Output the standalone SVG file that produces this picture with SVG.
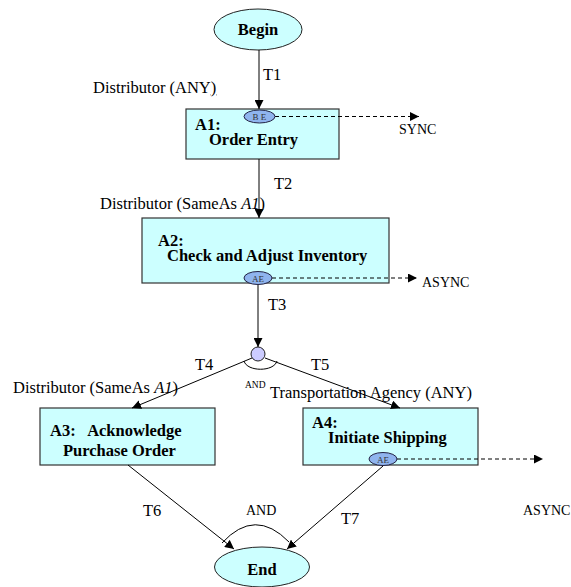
<svg xmlns="http://www.w3.org/2000/svg" width="571" height="587" viewBox="0 0 571 587">
  <style>
    .lbl { font-family: "Liberation Serif", "Times New Roman", serif; font-size: 16.5px; fill: #000; }
    .node-t { font-family: "Liberation Serif", "Times New Roman", serif; font-size: 16.5px; font-weight: bold; fill: #000; }
    .small { font-family: "Liberation Serif", "Times New Roman", serif; font-size: 14px; fill: #000; }
    .tiny { font-family: "Liberation Serif", "Times New Roman", serif; font-size: 9px; fill: #333; }
    .act { fill: #ccffff; stroke: #333; stroke-width: 1.2; }
    .term { fill: #ccffff; stroke: #222; stroke-width: 1; }
    .ev { fill: #8fb4ee; stroke: #224; stroke-width: 1; }
    .edge { fill: none; stroke: #000; stroke-width: 1; }
    .dash { fill: none; stroke: #000; stroke-width: 1; stroke-dasharray: 4 3; }
  </style>
  <defs>
    <marker id="arr" viewBox="0 0 10 10" refX="10" refY="5" markerWidth="9" markerHeight="9" markerUnits="userSpaceOnUse" orient="auto">
      <path d="M0,0 L10,5 L0,10 z" fill="#000"/>
    </marker>
  </defs>

  <g id="begin">
    <ellipse class="term" cx="258" cy="29.5" rx="44" ry="20.5"/>
    <text class="node-t" x="258" y="35" text-anchor="middle">Begin</text>
  </g>

  <g id="a1">
    <rect class="act" x="186" y="109" width="153" height="50"/>
    <text class="node-t" x="195" y="130">A1:</text>
    <text class="node-t" x="209" y="145">Order Entry</text>
  </g>

  <g id="a2">
    <rect class="act" x="142" y="218" width="247" height="65"/>
    <text class="node-t" x="158" y="246">A2:</text>
    <text class="node-t" x="167" y="261">Check and Adjust Inventory</text>
  </g>

  <g id="and-split">
    <circle cx="258" cy="354" r="7" fill="#ccccff" stroke="#222" stroke-width="1"/>
  </g>

  <g id="a3">
    <rect class="act" x="40" y="408" width="175" height="57"/>
    <text class="node-t" x="50" y="436" xml:space="preserve">A3:   Acknowledge</text>
    <text class="node-t" x="63" y="456">Purchase Order</text>
  </g>

  <g id="a4">
    <rect class="act" x="303" y="408" width="175" height="57"/>
    <text class="node-t" x="312" y="428">A4:</text>
    <text class="node-t" x="328" y="443">Initiate Shipping</text>
  </g>

  <g id="end">
    <ellipse class="term" cx="262" cy="567" rx="47.5" ry="20"/>
    <text class="node-t" x="262" y="575" text-anchor="middle">End</text>
  </g>

  <!-- connectors (drawn over the boxes, as the event links start inside them) -->
  <g id="connectors">
    <line class="edge" x1="259" y1="50" x2="259" y2="109" marker-end="url(#arr)"/>
    <line class="edge" x1="259" y1="159" x2="259" y2="218" marker-end="url(#arr)"/>
    <line class="edge" x1="258" y1="285" x2="258" y2="347" marker-end="url(#arr)"/>
    <line class="edge" x1="252" y1="358" x2="132" y2="408" marker-end="url(#arr)"/>
    <line class="edge" x1="265" y1="358" x2="400" y2="408" marker-end="url(#arr)"/>
    <line class="edge" x1="128" y1="465" x2="234" y2="549" marker-end="url(#arr)"/>
    <line class="edge" x1="383" y1="466" x2="287" y2="549" marker-end="url(#arr)"/>
    <line class="dash" x1="275" y1="116.5" x2="419" y2="116.5" marker-end="url(#arr)"/>
    <line class="dash" x1="272" y1="278" x2="417" y2="278" marker-end="url(#arr)"/>
    <line class="dash" x1="397" y1="459" x2="543" y2="459" marker-end="url(#arr)"/>
    <!-- AND join arcs -->
    <path class="edge" d="M244,361 C247,372 274,372 277,361"/>
    <path class="edge" d="M222,543 Q255,507 289,542"/>
  </g>

  <!-- event markers sitting on the box edges -->
  <g id="a1-be">
    <ellipse class="ev" cx="259.5" cy="116.5" rx="15.5" ry="6.5"/>
    <text class="tiny" x="259.5" y="120" text-anchor="middle">B E</text>
  </g>
  <g id="a2-ae">
    <ellipse class="ev" cx="258" cy="278" rx="14" ry="6.5"/>
    <text class="tiny" x="258" y="282" text-anchor="middle">AE</text>
  </g>
  <g id="a4-ae">
    <ellipse class="ev" cx="383" cy="459" rx="14" ry="6.5"/>
    <text class="tiny" x="383" y="463" text-anchor="middle">AE</text>
  </g>

  <!-- connector labels -->
  <g id="labels">
    <text class="lbl" x="263" y="80">T1</text>
    <text class="lbl" x="93" y="93">Distributor (ANY<tspan text-decoration="underline">)</tspan></text>
    <text class="small" x="399" y="134">SYNC</text>
    <text class="lbl" x="274" y="189">T2</text>
    <text class="lbl" x="100" y="209">Distributor (SameAs <tspan font-style="italic">A1</tspan>)</text>
    <text class="small" x="422" y="287">ASYNC</text>
    <text class="lbl" x="268" y="310">T3</text>
    <text class="lbl" x="195" y="370">T4</text>
    <text class="lbl" x="311" y="370">T5</text>
    <text class="tiny" x="245" y="388" style="font-size:9.5px;fill:#000">AND</text>
    <text class="lbl" x="13" y="393">Distributor (SameAs <tspan font-style="italic">A1</tspan>)</text>
    <text class="lbl" x="270" y="398">Transportation Agency (ANY)</text>
    <text class="lbl" x="143" y="516">T6</text>
    <text class="small" x="246" y="515">AND</text>
    <text class="lbl" x="341" y="524">T7</text>
    <text class="small" x="523" y="515">ASYNC</text>
  </g>
</svg>
